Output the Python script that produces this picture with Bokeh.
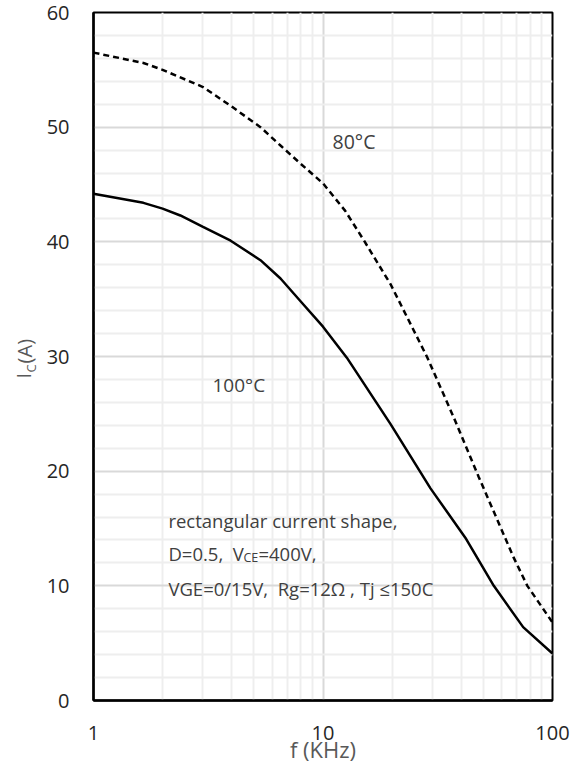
import math
from bokeh.plotting import figure
from bokeh.layouts import row
from bokeh.models import Range1d, FixedTicker, NumeralTickFormatter
from bokeh.core.properties import value
from bokeh.embed import file_html
from bokeh.resources import INLINE

# ---- data ----
freq_80 = [1, 1.65, 2, 3, 4, 5.34, 6.53, 8, 10, 12.5, 15.1, 19.7, 28.5, 37.1, 47.7, 67.6, 77.7, 100]
ic_80 = [56.5, 55.6, 55.0, 53.5, 51.8, 50.0, 48.4, 46.8, 45.1, 42.7, 40.1, 36.3, 29.9, 24.7, 19.5, 12.5, 10.0, 6.8]

freq_100 = [1, 1.65, 2, 2.39, 3, 3.96, 5.34, 6.53, 8, 10, 12.7, 19.7, 29.4, 41.7, 55.5, 74.5, 100]
ic_100 = [44.2, 43.4, 42.9, 42.3, 41.3, 40.1, 38.4, 36.8, 34.8, 32.6, 29.9, 24.1, 18.5, 14.2, 10.0, 6.4, 4.1]

x_major = [1, 10, 100]
x_minor = [2, 3, 4, 5, 6, 7, 8, 9, 20, 30, 40, 50, 60, 70, 80, 90]
y_major = [0, 10, 20, 30, 40, 50, 60]
y_minor = [2, 4, 6, 8, 12, 14, 16, 18, 22, 24, 26, 28, 32, 34, 36, 38,
           42, 44, 46, 48, 52, 54, 56, 58]

NB = "\u00a0"
label_80 = "80°C"
label_100 = "100°C"
note_line1 = "rectangular current shape,"
note_line2_a = "D=0.5," + NB + " V"
note_line2_sub = "CE"
note_line2_b = "=400V,"
note_line3 = "VGE=0/15V," + NB + " Rg=12Ω , Tj ≤150C"
x_title = "f (KHz)"
y_title_main = "I"
y_title_sub = "C"
y_title_unit = "(A)"

FONT = "Open Sans"
H = 767
TOP = 12
BOTTOM = 67
LEFT_W = 40

# ---- narrow side panel holding the rotated y-axis title ----
side = figure(width=LEFT_W, height=H, x_range=Range1d(0, LEFT_W), y_range=Range1d(0, 60),
              output_backend="svg", toolbar_location=None,
              x_axis_location=None, y_axis_location=None,
              min_border_left=0, min_border_right=0,
              min_border_top=TOP, min_border_bottom=BOTTOM)
side.outline_line_color = None
side.background_fill_color = "white"
side.border_fill_color = "white"
side.xgrid.visible = False
side.ygrid.visible = False

ang = math.pi / 2
ytxt = dict(angle=ang, text_font=value(FONT), text_color="#595959",
            text_align="left", text_baseline="alphabetic")
side.text(x=[23], y=[28.08], text=[y_title_main], text_font_size="20px", **ytxt)
side.text(x=[30], y=[28.6], text=[y_title_sub], text_font_size="13px", **ytxt)
side.text(x=[24], y=[29.4], text=[y_title_unit], text_font_size="20px", **ytxt)

# ---- main chart ----
p = figure(width=570 - LEFT_W, height=H, x_axis_type="log",
           x_range=Range1d(1, 100), y_range=Range1d(0, 60),
           output_backend="svg", toolbar_location=None,
           min_border_left=93 - LEFT_W, min_border_right=18,
           min_border_top=TOP, min_border_bottom=BOTTOM)

p.background_fill_color = "white"
p.border_fill_color = "white"
p.outline_line_color = "black"
p.outline_line_width = 2

# grids
p.xgrid.ticker = FixedTicker(ticks=x_major, minor_ticks=x_minor)
p.ygrid.ticker = FixedTicker(ticks=y_major, minor_ticks=y_minor)
for g in (p.xgrid, p.ygrid):
    g.grid_line_color = "#d9d9d9"
    g.grid_line_width = 2
    g.minor_grid_line_color = "#eeeeee"
    g.minor_grid_line_width = 2

# axes
p.xaxis.ticker = FixedTicker(ticks=x_major)
p.yaxis.ticker = FixedTicker(ticks=y_major)
p.xaxis.formatter = NumeralTickFormatter(format="0")
p.yaxis.formatter = NumeralTickFormatter(format="0")
for ax in (p.xaxis, p.yaxis):
    ax.major_tick_line_color = None
    ax.minor_tick_line_color = None
    ax.axis_line_color = "black"
    ax.axis_line_width = 2.5
    ax.major_label_text_font = FONT
    ax.major_label_text_font_size = "20px"
    ax.major_label_text_color = "#262626"
p.yaxis.major_label_standoff = 18
p.xaxis.major_label_standoff = 19

p.xaxis.axis_label = x_title
p.xaxis.axis_label_text_font = FONT
p.xaxis.axis_label_text_font_size = "22px"
p.xaxis.axis_label_text_font_style = "normal"
p.xaxis.axis_label_text_color = "#595959"
p.xaxis.axis_label_standoff = -9

# curves
p.line(freq_80, ic_80, line_color="black", line_width=2.5, line_dash="6 4")
p.line(freq_100, ic_100, line_color="black", line_width=2.5)

txt = dict(text_font=value(FONT), text_color="#404040", text_baseline="middle", text_align="left")
p.text(x=[11.0], y=[48.75], text=[label_80], text_font_size="19.5px", **txt)
p.text(x=[3.30], y=[27.5], text=[label_100], text_font_size="19px", **txt)

p.text(x=[2.12], y=[15.7], text=[note_line1], text_font_size="18.5px", **txt)
p.text(x=[2.12], y=[12.8], text=[note_line2_a], text_font_size="18.5px", **txt)
p.text(x=[2.12], y=[12.45], text=[note_line2_sub], text_font_size="12.5px", x_offset=[75], **txt)
p.text(x=[2.12], y=[12.8], text=[note_line2_b], text_font_size="18.5px", x_offset=[90], **txt)
p.text(x=[2.12], y=[9.77], text=[note_line3], text_font_size="18.5px", **txt)

layout = row(side, p, spacing=0)
open("out.html", "w").write(file_html(layout, INLINE))
